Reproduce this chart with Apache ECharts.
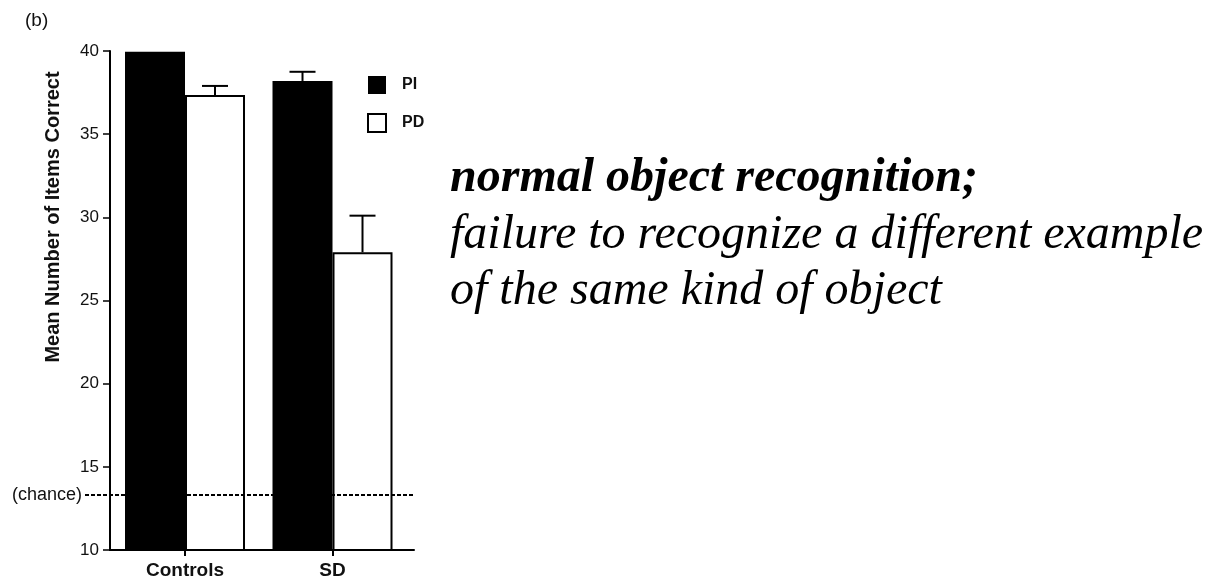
<!DOCTYPE html>
<html><head><meta charset="utf-8">
<script src="https://cdn.jsdelivr.net/npm/echarts@6/dist/echarts.min.js"></script>
<style>html,body{margin:0;padding:0;background:#fff}#c{width:1225px;height:588px}</style>
</head><body><div id="c"></div>
<script>
// ---- data ----
const categories = ['Controls', 'SD'];
const categoryPos = [1, 2];
const seriesNames = ['PI', 'PD'];
const piMeans = [39.95, 38.2];
const piSem = [0, 0.55];
const pdMeans = [37.35, 27.9];
const pdSem = [0.55, 2.2];
const chanceLevel = 13.3;
const chanceLabel = '(chance)';
const panelLabel = '(b)';
const yTitle = 'Mean Number of Items Correct';
const noteBold = 'normal object recognition;';
const noteLines = ['failure to recognize a different example', 'of the same kind of object'];

// ---- style ----
const SANS = 'Liberation Sans, Arial, Helvetica, sans-serif';
const SERIF = 'Liberation Serif, Times New Roman, serif';
const INK = '#111';
const BAR_W = 60;

const chart = echarts.init(document.getElementById('c'), null, {renderer: 'canvas'});

function errSeries(name, means, sems, offset) {
  return {
    type: 'custom', name: name + ' err', xAxisIndex: 0, yAxisIndex: 0, z: 4, silent: true,
    data: categoryPos.map((x, i) => [x, means[i], means[i] + sems[i]]),
    renderItem(params, api) {
      if (api.value(2) - api.value(1) <= 0) return {type: 'group', children: []};
      const base = api.coord([api.value(0), api.value(1)]);
      const top = api.coord([api.value(0), api.value(2)]);
      const cx = base[0] + offset;
      return {type: 'group', children: [
        {type: 'line', shape: {x1: cx, y1: base[1], x2: cx, y2: top[1]}, style: {stroke: '#000', lineWidth: 2}},
        {type: 'line', shape: {x1: cx - 13, y1: top[1], x2: cx + 13, y2: top[1]}, style: {stroke: '#000', lineWidth: 2}}
      ]};
    }
  };
}

const option = {
  backgroundColor: '#fff',
  animation: false,
  grid: [
    {left: 110, top: 51, width: 304, height: 499},
    {left: 85, top: 51, width: 329, height: 499}
  ],
  xAxis: [
    {
      type: 'value', gridIndex: 0, min: 0.4915, max: 2.5525,
      axisLine: {show: true, lineStyle: {color: '#000', width: 2}},
      axisTick: {show: true, customValues: categoryPos, length: 6, lineStyle: {color: '#000', width: 2}},
      axisLabel: {customValues: categoryPos, formatter: v => categories[categoryPos.indexOf(v)] || '',
        color: INK, fontFamily: SANS, fontSize: 19, fontWeight: 'bold', margin: 11},
      splitLine: {show: false}
    },
    {type: 'value', gridIndex: 1, min: 0, max: 1, show: false}
  ],
  yAxis: [
    {
      type: 'value', gridIndex: 0, min: 10, max: 40, interval: 5,
      axisLine: {show: true, lineStyle: {color: '#000', width: 2}},
      axisTick: {show: true, length: 7, lineStyle: {color: '#000', width: 1.5}},
      axisLabel: {color: INK, fontFamily: SANS, fontSize: 17, margin: 11},
      splitLine: {show: false}
    },
    {type: 'value', gridIndex: 1, min: 10, max: 40, show: false}
  ],
  legend: {
    data: seriesNames, orient: 'vertical', left: 362, top: 71,
    itemWidth: 18, itemHeight: 18, itemGap: 19, icon: 'rect',
    textStyle: {color: INK, fontFamily: SANS, fontSize: 16, fontWeight: 'bold', padding: [0, 0, 0, 11]}
  },
  series: [
    {
      name: seriesNames[0], type: 'bar', xAxisIndex: 0, yAxisIndex: 0,
      barWidth: BAR_W, barGap: '0%',
      data: categoryPos.map((x, i) => [x, piMeans[i]]),
      itemStyle: {color: '#000'}
    },
    {
      name: seriesNames[1], type: 'bar', xAxisIndex: 0, yAxisIndex: 0,
      barWidth: BAR_W, barGap: '0%',
      data: categoryPos.map((x, i) => [x, pdMeans[i]]),
      itemStyle: {color: '#fff', borderColor: '#000', borderWidth: 2}
    },
    errSeries(seriesNames[0], piMeans, piSem, -BAR_W / 2),
    errSeries(seriesNames[1], pdMeans, pdSem, BAR_W / 2),
    {
      name: 'chance', type: 'line', xAxisIndex: 1, yAxisIndex: 1, data: [], z: 5,
      markLine: {
        silent: true, symbol: 'none', animation: false,
        lineStyle: {color: '#000', width: 2, type: [4, 2]},
        label: {show: true, position: 'start', formatter: chanceLabel, color: INK,
          fontFamily: SANS, fontSize: 18, distance: 3},
        data: [{yAxis: chanceLevel}]
      }
    }
  ],
  graphic: [
    {type: 'text', left: 25, top: 11, style: {text: panelLabel, fill: INK, font: '19px ' + SANS}},
    {type: 'text', x: 53, y: 217, rotation: Math.PI / 2,
      style: {text: yTitle, fill: INK, font: 'bold 20px ' + SANS, align: 'center', verticalAlign: 'middle'}},
    {type: 'text', x: 450, y: 151,
      style: {
        text: '{b|' + noteBold + '}\n' + noteLines.map(s => '{i|' + s + '}').join('\n'),
        fill: '#000',
        rich: {
          b: {fontFamily: SERIF, fontStyle: 'italic', fontWeight: 'bold', fontSize: 48, lineHeight: 56, fill: '#000'},
          i: {fontFamily: SERIF, fontStyle: 'italic', fontSize: 48, lineHeight: 56, fill: '#000'}
        }
      }}
  ]
};
chart.setOption(option);
</script>
</body></html>
